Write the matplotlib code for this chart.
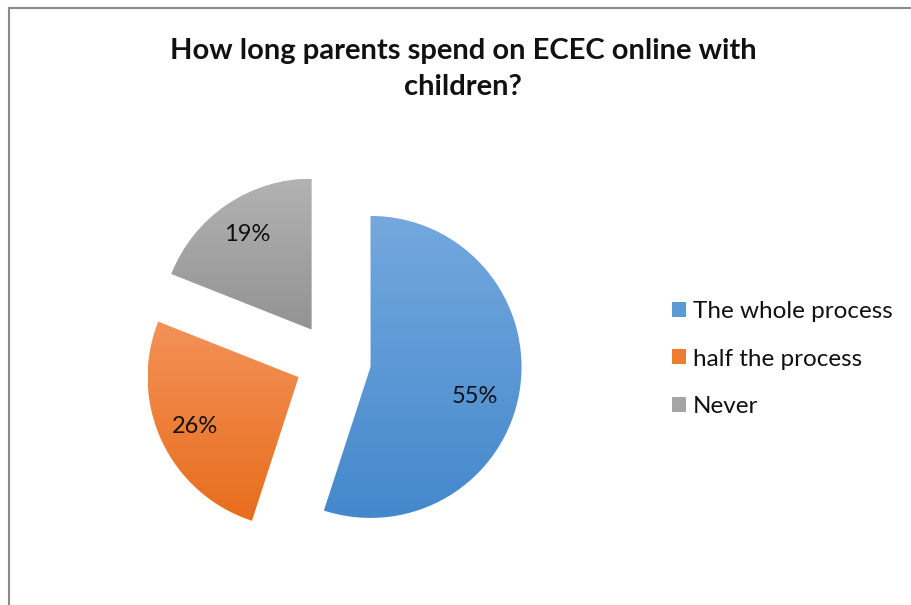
import numpy as np
import matplotlib.pyplot as plt
from matplotlib.patches import Patch
from matplotlib.colors import LinearSegmentedColormap
from matplotlib.lines import Line2D

# Survey answers
categories = ['The whole process', 'half the process', 'Never']
shares = [55, 26, 19]
title = 'How long parents spend on ECEC online with\nchildren?'

# top / bottom colours of each slice gradient
top_colors = ['#74a8de', '#f39258', '#b2b2b2']
bottom_colors = ['#4488cc', '#e86d1c', '#939393']

W, H = 911, 605
fig = plt.figure(figsize=(W / 100, H / 100), dpi=100)
plt.rcParams['font.family'] = ['Lato', 'DejaVu Sans']

# axes in pixel units, y up
ax = fig.add_axes([0, 0, 1, 1])

radius = 151
center = (333, H - 361)
explode = 38
wedges, texts, autotexts = ax.pie(
    shares, radius=radius, center=center, explode=[explode] * len(shares),
    startangle=90, counterclock=False, autopct='%.0f%%', pctdistance=0.74,
    frame=True, wedgeprops=dict(linewidth=0),
    textprops=dict(fontsize=17, color='#111111'))
ax.set_xlim(0, W)
ax.set_ylim(0, H)
ax.set_aspect('auto')
ax.axis('off')

# label placement: distance (fraction of radius) and angle tweak per slice
label_dist = [0.72, 0.76, 0.76]
label_shift = [-7, 0, 0]
for w, t, d, s in zip(wedges, autotexts, label_dist, label_shift):
    mid = np.deg2rad((w.theta1 + w.theta2) / 2)
    cx, cy = w.center
    a = mid + np.deg2rad(s)
    t.set_position((cx + d * radius * np.cos(a), cy + d * radius * np.sin(a)))
    t.set_zorder(3)

# vertical gradient inside each slice
grad = np.linspace(0, 1, 256).reshape(-1, 1)
for w, c0, c1 in zip(wedges, top_colors, bottom_colors):
    w.set_facecolor('none')
    ext = w.get_path().get_extents(w.get_transform() - ax.transData)
    cmap = LinearSegmentedColormap.from_list('g', [c1, c0])
    im = ax.imshow(grad, cmap=cmap, origin='lower', aspect='auto',
                   extent=[ext.x0, ext.x1, ext.y0, ext.y1], zorder=1)
    im.set_clip_path(w)

handles = [Patch(facecolor=c, edgecolor='none') for c in
           ['#5b9bd5', '#ed7d31', '#a5a5a5']]
leg = fig.legend(handles, categories, loc='center left',
                 bbox_to_anchor=(650 / W, 1 - 359 / H), frameon=False,
                 fontsize=17.5, handlelength=0.58, handleheight=0.58,
                 handletextpad=0.28, labelspacing=1.1)
for t in leg.get_texts():
    t.set_color('#111111')

fig.text(463 / W, 1 - 69 / H, title, ha='center', va='center',
         fontsize=21, fontweight='bold', linespacing=1.5, color='#111111')

# chart-area border (left and top edges)
fig.add_artist(Line2D([8.5 / W, 8.5 / W], [0, 1 - 7.5 / H], color='#8a8a8a', lw=1.5))
fig.add_artist(Line2D([8.5 / W, 1], [1 - 7.5 / H, 1 - 7.5 / H], color='#8a8a8a', lw=1.5))

fig.savefig('out.png', dpi=100)
